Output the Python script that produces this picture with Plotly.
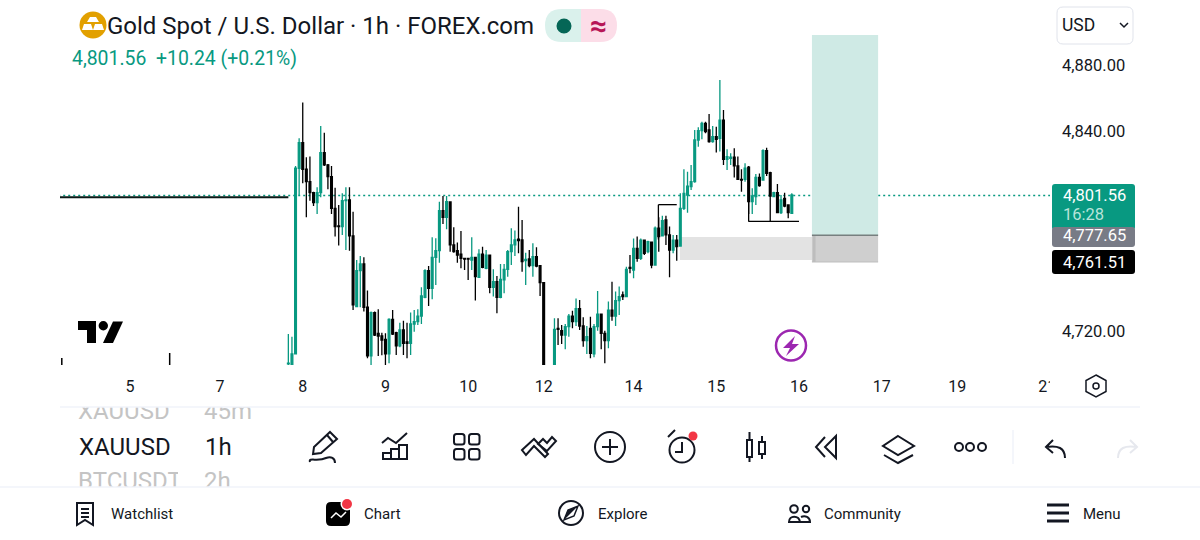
import plotly.graph_objects as go

# hourly candles
opens = [4700.2, 4699.0, 4706.2, 4817.9, 4833.3, 4817.3, 4809.8, 4803.2, 4797.2, 4803.2,
         4827.3, 4819.9, 4812.9, 4793.8, 4783.2, 4782.8, 4798.4, 4798.8, 4777.2, 4734.7,
         4756.3, 4760.3, 4734.3, 4705.0, 4731.1, 4718.6, 4717.0, 4715.0, 4706.2, 4727.0,
         4719.0, 4711.0, 4720.6, 4713.4, 4712.6, 4724.2, 4725.6, 4729.0, 4740.3, 4756.3,
         4745.7, 4764.3, 4768.3, 4792.4, 4788.4, 4797.6, 4771.8, 4768.3, 4766.3, 4763.7,
         4763.7, 4762.7, 4764.3, 4752.3, 4766.3, 4757.7, 4765.7, 4746.3, 4749.7, 4740.3,
         4750.7, 4757.1, 4767.7, 4771.8, 4775.2, 4774.8, 4762.3, 4763.3, 4759.3, 4764.7,
         4759.3, 4749.1, 4688.0, 4692.0, 4699.0, 4721.6, 4720.2, 4717.6, 4722.6, 4729.0,
         4725.6, 4733.4, 4723.0, 4714.2, 4721.6, 4706.2, 4722.6, 4730.2, 4718.6, 4714.2,
         4732.6, 4729.0, 4738.3, 4741.7, 4740.7, 4758.3, 4756.7, 4769.7, 4763.7, 4774.7,
         4767.7, 4773.5, 4759.7, 4781.8, 4777.2, 4786.8, 4777.8, 4768.7, 4774.7, 4771.1,
         4793.8, 4801.8, 4806.8, 4809.8, 4834.9, 4840.5, 4844.9, 4840.9, 4833.9, 4836.9,
         4835.9, 4846.9, 4823.3, 4823.9, 4824.5, 4819.3, 4811.2, 4811.2, 4818.5, 4797.8,
         4800.8, 4812.4, 4810.8, 4828.5, 4815.2, 4800.8, 4803.2, 4791.2, 4799.8, 4795.8,
         4790.8]
highs = [4718.2, 4716.6, 4819.3, 4835.9, 4857.4, 4824.5, 4824.9, 4803.8, 4806.4, 4843.3,
         4839.3, 4820.5, 4819.3, 4806.2, 4795.8, 4802.8, 4806.4, 4806.4, 4791.8, 4762.7,
         4765.1, 4764.3, 4744.3, 4731.7, 4731.7, 4733.1, 4719.0, 4718.6, 4727.6, 4732.7,
         4719.6, 4725.0, 4726.2, 4725.0, 4731.1, 4732.7, 4733.1, 4746.3, 4757.1, 4759.1,
         4776.4, 4775.8, 4797.8, 4801.2, 4801.2, 4797.8, 4782.4, 4773.2, 4780.2, 4763.7,
         4763.7, 4776.4, 4764.7, 4769.1, 4770.7, 4768.7, 4765.7, 4757.1, 4753.1, 4760.3,
         4760.3, 4768.7, 4781.8, 4780.4, 4794.8, 4786.8, 4767.1, 4768.7, 4772.8, 4770.4,
         4759.7, 4749.1, 4695.0, 4698.0, 4727.6, 4727.6, 4723.6, 4724.2, 4730.2, 4732.2,
         4739.5, 4738.7, 4728.2, 4723.0, 4728.6, 4724.2, 4744.1, 4730.6, 4720.2, 4737.7,
         4749.7, 4743.7, 4746.7, 4743.7, 4758.7, 4765.7, 4775.7, 4776.8, 4775.7, 4775.1,
         4774.3, 4773.7, 4782.8, 4788.4, 4789.4, 4789.4, 4782.8, 4777.8, 4777.8, 4802.8,
         4817.3, 4815.8, 4819.9, 4840.9, 4842.5, 4845.9, 4845.9, 4850.5, 4843.3, 4842.9,
         4871.0, 4852.9, 4829.3, 4826.9, 4829.9, 4824.9, 4817.3, 4820.9, 4819.3, 4805.8,
         4814.4, 4814.8, 4829.3, 4830.3, 4815.8, 4803.8, 4808.4, 4801.8, 4803.2, 4796.2,
         4802.8]
lows = [4698.0, 4698.0, 4706.2, 4801.8, 4808.8, 4788.4, 4798.4, 4795.2, 4790.4, 4800.4,
        4819.3, 4805.2, 4790.4, 4776.8, 4771.4, 4777.8, 4768.7, 4768.3, 4732.7, 4734.3,
        4734.3, 4731.7, 4703.6, 4699.0, 4717.0, 4705.0, 4705.4, 4699.0, 4700.6, 4717.6,
        4705.6, 4710.2, 4705.6, 4703.6, 4705.6, 4719.6, 4723.6, 4724.2, 4739.7, 4735.1,
        4739.1, 4747.7, 4761.1, 4784.4, 4781.2, 4767.7, 4767.1, 4761.1, 4757.7, 4756.7,
        4750.7, 4756.7, 4738.3, 4752.3, 4757.7, 4757.1, 4742.7, 4740.7, 4730.7, 4739.7,
        4742.7, 4752.7, 4759.7, 4765.1, 4766.7, 4755.7, 4747.7, 4758.3, 4752.7, 4758.3,
        4741.1, 4688.0, 4685.0, 4690.0, 4698.0, 4711.6, 4712.2, 4709.0, 4716.6, 4721.6,
        4723.0, 4720.6, 4710.6, 4706.2, 4703.6, 4704.2, 4720.2, 4709.0, 4700.6, 4709.6,
        4726.2, 4723.0, 4729.6, 4738.7, 4740.3, 4754.7, 4751.7, 4761.7, 4762.7, 4765.7,
        4766.7, 4757.7, 4759.5, 4767.7, 4776.8, 4771.7, 4752.3, 4766.7, 4762.3, 4770.9,
        4792.8, 4791.2, 4804.8, 4809.2, 4830.9, 4835.3, 4838.9, 4833.3, 4833.3, 4827.3,
        4827.9, 4819.9, 4816.9, 4819.9, 4812.4, 4810.8, 4803.8, 4809.8, 4790.4, 4790.4,
        4795.8, 4806.8, 4810.4, 4813.2, 4800.8, 4800.4, 4790.8, 4790.4, 4794.4, 4787.8,
        4790.6]
closes = [4700.6, 4706.2, 4817.9, 4833.3, 4817.3, 4809.8, 4803.2, 4797.2, 4803.2, 4827.3,
          4819.9, 4812.9, 4793.8, 4782.8, 4782.8, 4798.4, 4798.8, 4777.2, 4735.7, 4756.3,
          4760.3, 4734.3, 4705.0, 4731.1, 4717.6, 4717.0, 4714.6, 4706.2, 4727.0, 4718.2,
          4711.0, 4720.6, 4712.6, 4712.6, 4724.2, 4725.6, 4729.0, 4741.1, 4756.3, 4745.7,
          4764.3, 4768.3, 4792.4, 4788.4, 4797.8, 4771.8, 4767.7, 4765.7, 4763.7, 4763.3,
          4763.3, 4764.3, 4752.7, 4766.3, 4758.3, 4765.7, 4746.3, 4749.7, 4740.3, 4751.1,
          4757.1, 4767.7, 4771.8, 4774.8, 4774.4, 4761.7, 4763.1, 4759.3, 4764.7, 4759.1,
          4749.1, 4690.0, 4692.0, 4696.0, 4721.0, 4721.0, 4717.6, 4722.6, 4729.0, 4725.6,
          4733.4, 4723.0, 4714.2, 4716.6, 4706.6, 4722.6, 4730.2, 4718.6, 4714.2, 4732.6,
          4729.0, 4738.3, 4740.7, 4740.7, 4757.1, 4757.7, 4769.7, 4763.7, 4774.7, 4766.7,
          4773.7, 4759.7, 4781.8, 4776.8, 4786.4, 4777.8, 4768.7, 4774.7, 4770.7, 4793.8,
          4802.8, 4807.2, 4809.8, 4834.9, 4840.5, 4844.9, 4839.9, 4833.9, 4836.9, 4835.3,
          4846.9, 4823.3, 4824.9, 4824.5, 4819.3, 4811.2, 4810.8, 4817.9, 4797.8, 4801.2,
          4812.4, 4807.4, 4828.5, 4814.8, 4801.2, 4803.2, 4791.2, 4798.8, 4795.2, 4791.2,
          4801.8]

# flat stretch before the open and the two bars that poke up from the bottom
flat_x = [-64, 0]
flat_price = [4800.4, 4800.4]
stub_x = [-63, -33]
stub_high = [4703.8, 4706.8]
stub_low = [4690.0, 4690.0]

day_ticks = [-44, -19, 4, 27, 50, 71, 96, 119, 142, 165, 186, 211]
day_labels = ["5", "7", "8", "9", "10", "12", "14", "15", "16", "17", "19", "21"]
price_ticks = [4720, 4840, 4880]

last_price = 4801.56
stop_price = 4777.65
target_price = 4761.51

GREEN = "#089981"
INK = "#131722"
RULE = "#f0f3fa"
FONT = "Roboto"

fig = go.Figure()
fig.add_trace(go.Scatter(x=flat_x, y=flat_price, mode="lines", line=dict(color="#0b1a17", width=2),
                         hoverinfo="skip", showlegend=False))
fig.add_trace(go.Candlestick(x=stub_x, open=stub_low, high=stub_high, low=stub_low, close=stub_low,
                             increasing=dict(line=dict(color="black", width=1.5), fillcolor="black"),
                             decreasing=dict(line=dict(color="black", width=1.5), fillcolor="black"),
                             whiskerwidth=0, showlegend=False))
fig.add_trace(go.Candlestick(x=list(range(len(opens))), open=opens, high=highs, low=lows, close=closes,
                             increasing=dict(line=dict(color=GREEN, width=1.3), fillcolor=GREEN),
                             decreasing=dict(line=dict(color="black", width=1.3), fillcolor="black"),
                             whiskerwidth=0, showlegend=False))

shapes = []


def pix(path, color=INK, width=2, fill=None, layer="above"):
    # drawn in screen pixels on the overlay axes
    s = dict(type="path", xref="x2", yref="y2", path=path, line=dict(color=color, width=width), layer=layer)
    if fill:
        s["fillcolor"] = fill
    shapes.append(s)


def box(x0, y0, x1, y1, fill=None, color=None, width=0, kind="rect", layer="above"):
    s = dict(type=kind, xref="x2", yref="y2", x0=x0, y0=y0, x1=x1, y1=y1, layer=layer,
             line=dict(color=color or "rgba(0,0,0,0)", width=width))
    if fill:
        s["fillcolor"] = fill
    shapes.append(s)


def dot(cx, cy, r, fill=None, color=None, width=0):
    box(cx - r, cy - r, cx + r, cy + r, fill, color, width, "circle")


def rrect(x0, y0, x1, y1, r, fill=None, color=None, width=0):
    pix(f"M {x0+r},{y0} H {x1-r} Q {x1},{y0} {x1},{y0+r} V {y1-r} Q {x1},{y1} {x1-r},{y1} "
        f"H {x0+r} Q {x0},{y1} {x0},{y1-r} V {y0+r} Q {x0},{y0} {x0+r},{y0} Z",
        color or "rgba(0,0,0,0)", width, fill)


# price line and position boxes, on the data axes
shapes.append(dict(type="line", xref="x", yref="y", x0=-64, x1=212, y0=last_price, y1=last_price,
                   line=dict(color=GREEN, width=1.5, dash="2px,3px"), layer="below"))
shapes.append(dict(type="rect", xref="x", yref="y", x0=108.9, x1=145.6, y0=4762.7, y1=4776.6,
                   fillcolor="#e3e3e3", line=dict(width=0), layer="below"))
shapes.append(dict(type="rect", xref="x", yref="y", x0=145.6, x1=164, y0=stop_price, y1=4898,
                   fillcolor="#cfeae5", line=dict(width=0), layer="below"))
shapes.append(dict(type="rect", xref="x", yref="y", x0=145.6, x1=164, y0=target_price, y1=stop_price,
                   fillcolor="#cfcfcf", line=dict(width=0), layer="below"))
shapes.append(dict(type="rect", xref="x", yref="y", x0=145.8, x1=146.6, y0=target_price, y1=stop_price,
                   fillcolor="#bdbdbd", line=dict(width=0), layer="below"))
shapes.append(dict(type="line", xref="x", yref="y", x0=145.6, x1=164, y0=stop_price, y1=stop_price,
                   line=dict(color="#777f7f", width=1.5), layer="below"))
shapes.append(dict(type="line", xref="x", yref="y", x0=145.6, x1=164, y0=target_price, y1=target_price,
                   line=dict(color="#bdbdbd", width=1), layer="below"))
for x0, y0, x1, y1 in [(102.9, 4796, 108, 4796), (102.9, 4796, 102.9, 4775),
                       (127.9, 4786, 142, 4786), (128, 4800, 128, 4786), (134, 4815, 134, 4786)]:
    shapes.append(dict(type="line", xref="x", yref="y", x0=x0, x1=x1, y0=y0, y1=y1,
                       line=dict(color="black", width=1.3), layer="above"))

# header icons
dot(93, 25, 13.5, "#e2a000")
pix("M 90,17 H 96 L 99,22 H 87 Z", "white", 0, "white")
pix("M 84,24 H 91 L 93,30 H 82 Z", "white", 0, "white")
pix("M 95,24 H 102 L 104,30 H 93 Z", "white", 0, "white")
pix("M 581,9 H 562 Q 545,9 545,25.5 Q 545,42 562,42 H 581 Z", "rgba(0,0,0,0)", 0, "#daf1ec")
pix("M 581,9 H 600 Q 617,9 617,25.5 Q 617,42 600,42 H 581 Z", "rgba(0,0,0,0)", 0, "#fcdde8")
dot(564, 26, 7.5, "#056656")
rrect(1057, 7, 1133, 44, 6, None, "#e0e3eb", 1)
pix("M 1120,23 L 1124,27 L 1128,23", INK, 1.5)

# tradingview mark and badges on the chart
pix("M 78,321 H 96 V 343 H 87 V 330 H 78 Z", "black", 0, "black")
dot(103.3, 325.7, 4.7, "black")
pix("M 113,321.5 H 123 L 113,343 H 103 Z", "black", 0, "black")
dot(791, 345.5, 15, None, "#9c27b0", 2.5)
pix("M 795,336 L 783,348 H 790 L 786,356 L 799,344 H 792 Z", "#9c27b0", 0, "#9c27b0")
pix("M 1096,375 L 1106,380.5 V 391.5 L 1096,397 L 1086,391.5 V 380.5 Z", INK, 1.5)
dot(1096, 386, 3, None, INK, 1.5)

# price tags
rrect(1052, 184, 1135, 230, 3, GREEN)
rrect(1052, 227, 1135, 247, 3, "#787b86")
rrect(1052, 250, 1135, 274, 3, "black")

# clip the cut off 21 and the scrolling symbol picker
box(1050, 372, 1058, 398, "white")
box(60, 394, 270, 407, "white")
box(60, 487, 270, 500, "white")
box(178, 468, 200, 487, "white")
pix("M 60,407 H 1140", RULE, 1.5)
pix("M 0,487 H 1200", RULE, 1.5)

# toolbar
pix("M 330,432 L 337,439 L 321,453 L 313,454 L 314,447 Z M 327,435 L 333,442")
pix("M 310,462 C 308,457 318,462 326,458 C 331,456 335,458 335,463")
pix("M 382,443 L 388,438 L 396,443 L 407,433")
pix("M 383,459 V 453 H 391 V 459 Z M 391,459 V 449 H 399 V 459 M 399,459 V 445 H 407 V 459 H 383")
for gx in (454, 469):
    for gy in (434, 449):
        rrect(gx, gy, gx + 10.5, gy + 10.5, 2.5, None, INK, 2)
pix("M 522,450 L 534,439 L 548,454 L 545,457 L 534,446 L 526,455 Z")
pix("M 538,444 L 543,439 L 547,443 L 552,437 L 556,441 L 547,451 Z")
dot(610, 447, 15, None, INK, 2)
pix("M 602,447 H 618 M 610,439 V 455")
dot(682, 450, 12.5, None, INK, 2)
pix("M 682,442 V 452 H 675")
pix("M 668,437 L 675,430")
dot(693, 436, 4.5, "#f23645")
pix("M 747,440 H 752 V 457 H 747 Z M 749.5,432 V 440 M 749.5,457 V 462", INK, 2)
pix("M 759,442 H 765 V 454 H 759 Z M 762,436 V 442 M 762,454 V 459", INK, 2)
pix("M 825,437 L 816,447 L 825,457 M 836,436 V 458 L 825,447 Z")
pix("M 898,436 L 914,446 L 898,455 L 883,446 Z")
pix("M 884,455 L 898,463 L 913,455")
for cx in (959, 970, 982):
    dot(cx, 447, 4, None, INK, 2)
pix("M 1013,430 V 464", RULE, 1.5)
pix("M 1053,440 L 1046,447 L 1053,453 M 1046,447 C 1058,445 1065,448 1065,458")
pix("M 1130,440 L 1137,447 L 1130,453 M 1137,447 C 1125,445 1118,448 1118,458", "#e6e8ee")

# bottom navigation
pix("M 77,503 H 93 V 525 L 85,520 L 77,525 Z M 81,509 H 89 M 81,513 H 89 M 81,517 H 89")
rrect(326, 502, 350, 526, 5, "black")
pix("M 331,518 L 336,513 L 341,517 L 346,512", "white", 1.5)
dot(347, 504, 6.5, "white")
dot(347, 504, 5, "#f23645")
dot(571, 513, 12, None, INK, 2)
pix("M 578,506 L 574,516 L 564,520 L 568,510 Z", INK, 1.5)
pix("M 578,506 L 564,520 L 568,510 Z", INK, 0, INK)
dot(794, 509, 3.8, None, INK, 2)
dot(806, 509, 3.2, None, INK, 2)
pix("M 789,522 C 789,515 799,515 800,522 Z M 801,517 C 805,515 810,517 810,522 H 800", INK, 2)
pix("M 1047,505 H 1069 M 1047,513 H 1069 M 1047,521 H 1069", INK, 3)

annotations = []


def label(x, y, text, size, color=INK, anchor="left"):
    annotations.append(dict(x=x, y=y, xref="x2", yref="y2", text=text, showarrow=False, xanchor=anchor,
                            yanchor="middle", font=dict(family=FONT, size=size, color=color)))


label(104.5, 26, "Gold Spot / U.S. Dollar · 1h · FOREX.com", 24)
label(70, 58, "4,801.56", 19.4, GREEN)
label(154, 58, "+10.24 (+0.21%)", 19.4, GREEN)
label(598, 25, "<b>≈</b>", 30, "#b71556", "center")
label(1060, 25, "USD", 17.5)
label(1061, 195, "4,801.56", 16.5, "white")
label(1061, 214, "16:28", 16.5, "#b9e4da")
label(1061, 235, "4,777.65", 16.5, "white")
label(1061, 262, "4,761.51", 16.5, "white")
label(77, 447, "XAUUSD", 24)
label(202.5, 447, "1h", 24)
label(109, 514, "Watchlist", 15)
label(362, 514, "Chart", 15)
label(596, 514, "Explore", 15)
label(822, 514, "Community", 15)
label(1081, 514, "Menu", 15)

# picker rows that scroll out of view, scatter text so the white boxes can cut them
fig.add_trace(go.Scatter(x=[78, 204, 78, 204], y=[413, 413, 483, 483], xaxis="x2", yaxis="y2", mode="text",
                         text=["XAUUSD", "45m", "BTCUSDT", "2h"], textposition="middle right",
                         textfont=dict(family=FONT, size=24, color="#c4c4c4"),
                         hoverinfo="skip", showlegend=False, cliponaxis=False))

fig.update_layout(
    width=1200, height=540, margin=dict(l=0, r=0, t=0, b=0, autoexpand=False),
    paper_bgcolor="white", plot_bgcolor="rgba(0,0,0,0)", showlegend=False,
    font=dict(family=FONT, color=INK),
    shapes=shapes, annotations=annotations,
    xaxis=dict(domain=[60 / 1200, 1050 / 1200], range=[-63.5, 211.8], rangeslider=dict(visible=False),
               tickmode="array", tickvals=day_ticks, ticktext=day_labels, showgrid=False, zeroline=False,
               tickfont=dict(family=FONT, size=16, color=INK), ticks="", ticklabelstandoff=10),
    yaxis=dict(domain=[1 - 365 / 540, 1], range=[4699.55, 4919.1], side="right", anchor="x",
               tickmode="array", tickvals=price_ticks, tickformat=",.2f", showgrid=False, zeroline=False,
               tickfont=dict(family=FONT, size=16.5, color=INK), ticks="", ticklabelstandoff=11),
    xaxis2=dict(domain=[0, 1], range=[0, 1200], visible=False, anchor="y2"),
    yaxis2=dict(domain=[0, 1], range=[540, 0], visible=False, anchor="x2"),
)

# drop the page's default body margin so the figure sits at the window corner
fig.write_html("out.html", config={"displayModeBar": False}, post_script="document.body.style.margin = '0';")
